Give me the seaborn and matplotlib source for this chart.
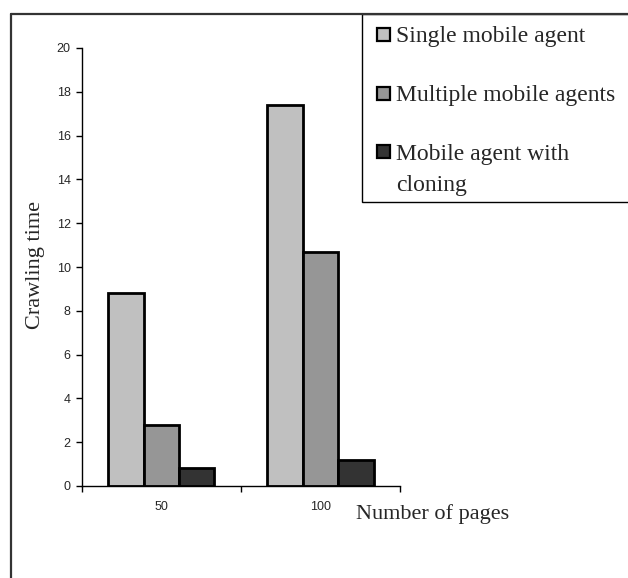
import matplotlib
matplotlib.use("Agg")
import matplotlib.pyplot as plt
from matplotlib.patches import Rectangle
from matplotlib.lines import Line2D
import seaborn as sns
import pandas as pd

# ---- data ----
pages = ["50", "100"]
single = [8.8, 17.4]
multiple = [2.8, 10.7]
cloning = [0.8, 1.2]
methods = ["Single mobile agent", "Multiple mobile agents", "Mobile agent with\ncloning"]
colors = ["#c0c0c0", "#969696", "#333333"]
yticks = [0, 2, 4, 6, 8, 10, 12, 14, 16, 18, 20]

rows = []
for m, vals in zip(methods, [single, multiple, cloning]):
    for p, v in zip(pages, vals):
        rows.append({"pages": p, "time": v, "method": m})
df = pd.DataFrame(rows)

sns.set_style("white")
W, H = 628, 578
fig = plt.figure(figsize=(W / 100, H / 100), dpi=100)
ax_l, ax_r, ax_t, ax_b = 81.7, 400, 48, 486
ax = fig.add_axes([ax_l / W, 1 - ax_b / H, (ax_r - ax_l) / W, (ax_b - ax_t) / H])

sns.barplot(data=df, x="pages", y="time", hue="method", hue_order=methods,
            order=pages, palette=colors, width=0.668, saturation=1,
            edgecolor="black", linewidth=2, errorbar=None, legend=False, ax=ax)

ax.set_xlim(-0.5, 1.5)
ax.set_ylim(0, 20)
for s in ["top", "right"]:
    ax.spines[s].set_visible(False)
for s in ["left", "bottom"]:
    ax.spines[s].set_color("black")
    ax.spines[s].set_linewidth(1.0)

tick_font = dict(family="Liberation Sans", size=9)
ax.set_yticks(yticks)
ax.set_yticklabels([str(v) for v in yticks], fontdict=tick_font)
ax.tick_params(axis="y", direction="out", length=4, width=1, color="black", pad=4, left=True)

ax.set_xticks([-0.5, 0.5, 1.5])
ax.set_xticklabels(["", "", ""])
ax.set_xticks([0, 1], minor=True)
ax.set_xticklabels(pages, minor=True, fontdict=tick_font)
ax.tick_params(axis="x", which="major", direction="out", length=4, width=1, color="black", bottom=True)
ax.tick_params(axis="x", which="minor", length=0, pad=11, bottom=True)

label_font = dict(family="Liberation Serif", size=16)
ax.set_ylabel("Crawling time", fontdict=label_font)
ax.yaxis.set_label_coords((45 - ax_l) / (ax_r - ax_l), 0.505)
ax.set_xlabel("Number of pages", fontdict=label_font)
ax.xaxis.label.set_ha("left")
ax.xaxis.label.set_va("baseline")
ax.xaxis.set_label_coords((356 - ax_l) / (ax_r - ax_l), (ax_b - 519) / (ax_b - ax_t))

# outer frame lines
fc = "#333333"
fig.add_artist(Line2D([11 / W, 11 / W], [0, 1 - 14 / H], transform=fig.transFigure, color=fc, lw=1.6))
fig.add_artist(Line2D([11 / W, 1], [1 - 14 / H, 1 - 14 / H], transform=fig.transFigure, color=fc, lw=1.6))

# legend box
box_top, box_bot, box_left = 14, 202, 362
fig.add_artist(Rectangle((box_left / W, 1 - box_bot / H), (W - box_left + 20) / W, (box_bot - box_top) / H,
                         transform=fig.transFigure, facecolor="white", edgecolor="black", lw=1.0))

# legend entries (swatch + label); baseline of each entry's first line
baselines = [41.7, 100.7, 159.5]
line_gap = 31.5
sq = 13
for c, lab, yb in zip(colors, methods, baselines):
    fig.add_artist(Rectangle((377 / W, 1 - (yb - 1) / H), sq / W, sq / H,
                             transform=fig.transFigure, facecolor=c, edgecolor="black", lw=1.6))
    for k, line in enumerate(lab.split("\n")):
        fig.text(396 / W, 1 - (yb + k * line_gap) / H, line, ha="left", va="baseline",
                 family="Liberation Serif", size=17)

fig.savefig("out.png", dpi=100)
